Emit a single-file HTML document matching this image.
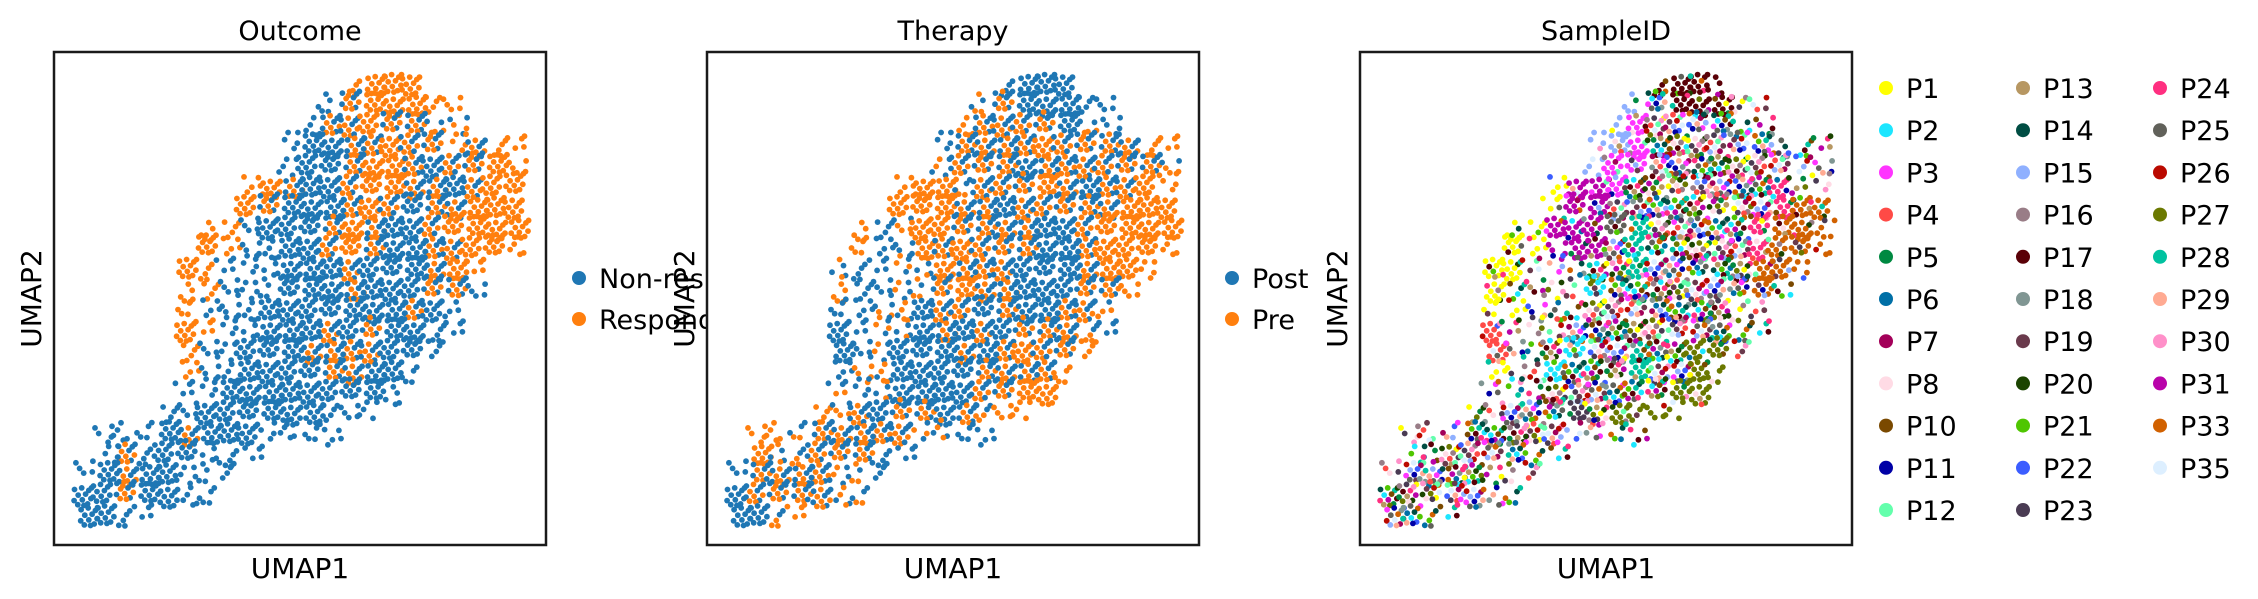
<!DOCTYPE html>
<html><head><meta charset="utf-8">
<style>
html,body{margin:0;padding:0;background:#fff;}
svg{display:block;font-family:"DejaVu Sans","Liberation Sans",sans-serif;}
</style></head>
<body>
<svg id="fig" width="2258" height="599" viewBox="0 0 2258 599" xmlns="http://www.w3.org/2000/svg">
<rect x="0" y="0" width="2258" height="599" fill="#fff"/>
</svg>
<script>
// ---- data: occupancy/colour grids (24x24 cells over each UMAP panel)
const outcomeCategories = ["Non-responder","Responder"];
const outcomeColors = ["#1f77b4","#ff7f0e"];
const outcomeGrid = [
"........................",
"..............oOOO......",
".............bMOOOoo....",
"............bMMOMMmm....",
"...........bBBMMOMMoMoo.",
"...........bBBMOOMBMMOo.",
".........oOMBBMOOMMBMOO.",
".........OMBBBMOMBMMOOO.",
".......oobBBBMOMBBMOOOO.",
".......OobbBBMOMBBMMOOo.",
"......OobbbBBBMBBBMOo...",
"......oobbbBBBMBBBMMb...",
"......obbbBBBBBBBMBb....",
"......OobbBBBMBMBBbb....",
"......obbBBBMMMMBBb.....",
"......obbBBBBMMBBb......",
"......bbBBBBBBBBb.......",
".....bbBBBBBBbbb........",
"..bbbBMBBBbbbb..........",
"..bMbBBbbb..............",
".bBMBBbbb...............",
".BBMBBbb................",
".BBbb...................",
"........................"
];
const therapyCategories = ["Post","Pre"];
const therapyColors = ["#1f77b4","#ff7f0e"];
const therapyGrid = [
"........................",
"..............bBBB......",
".............mMBBBbb....",
"............oMMMMBmb....",
"...........bMMMMOMMMMoo.",
"...........mMMMBMMMMMMm.",
".........oOOmMMMOMBMMOo.",
".........OOOMMBMMMMMOOO.",
".......obmOOMMMMBBMOOOO.",
".......obbOMOMMMBBMOOOo.",
"......mbbmmOMMMBBBMOOo..",
"......obbmmMOMMBBBMMo...",
"......bbmmBMMBMBBMMm....",
"......BbmmBMBMBMMMmb....",
"......BbmBBBMBMOMMo.....",
"......bomBBBBMMMMo......",
"......mbmBBBBMMOO.......",
".....omMBMMBMmoo........",
"..oomMMMMMmmbb..........",
"..OmmMMMbb..............",
".bMMMMmmb...............",
".BMMMMmm................",
".BBmo...................",
"........................"
];
const sampleCategories = ["P1","P2","P3","P4","P5","P6","P7","P8","P10","P11","P12","P13","P14","P15","P16","P17","P18","P19","P20","P21","P22","P23","P24","P25","P26","P27","P28","P29","P30","P31","P33","P35"];
const sampleColors = ["#ffff00","#1ce6ff","#ff34ff","#ff4a46","#008941","#006fa6","#a30059","#ffdbe5","#7a4900","#0000a6","#63ffac","#b79762","#004d43","#8fb0ff","#997d87","#5a0007","#809693","#6a3a4c","#1b4400","#4fc601","#3b5dff","#4a3b53","#ff2f80","#61615a","#ba0900","#6b7900","#00c2a0","#ffaa92","#ff90c9","#b903aa","#d16100","#ddefff"];
const sampleLetters = {y:"P1",c:"P2",p:"P3",r:"P4",u:"P31",k:"P17",n:"P33",v:"P27",l:"P15",t:"P28",g:"P25",h:"P24",d:"P23"};
const sampleGrid = [
"........................",
"..............kKKk......",
".............lXKKKxx....",
"............lPXXXXxx....",
"...........lLPXXXXXXxxx.",
"...........lPPXXXXXXXxx.",
".........yUUPXXXXXXXHxx.",
".........yUUXXXXXXXXHNN.",
".......yyUUUGTXXXXXHNNn.",
".......YyuUUXTXXXXXHNNn.",
"......YYxxxXXTXXXXXNNn..",
"......YxxxxCXXXXXXXNx...",
"......yyxxxXXXXXXXxx....",
"......RxxxXXXXXXXXxx....",
"......RxxXCXXTXXVVx.....",
"......yxxCXXXTXXVv......",
"......xxxXXXXXXVV.......",
".....xxXXXDXVvvv........",
"..xxxXXXXXxxxx..........",
"..xxXXXXxx..............",
".xXXXXxxx...............",
".XXXXXxx................",
".XXxx...................",
"........................"
];

// ---- layout
const NS = "http://www.w3.org/2000/svg";
const svg = document.getElementById("fig");
const PW = 492, PH = 493, PY = 52, NCELL = 24;
const panelX = [54, 707, 1360];
const CS = PW / NCELL, CSY = PH / NCELL;
const offs = [[0.12,0.18],[0.47,0.1],[0.82,0.22],[0.3,0.45],[0.66,0.4],[0.92,0.62],[0.1,0.72],[0.5,0.68],[0.76,0.88],[0.28,0.92],[0.95,0.1],[0.58,0.95]];
const shifts = [[0,0],[0.15,-0.1],[-0.12,0.12],[0.08,0.2],[-0.2,-0.05],[0.2,0.1],[-0.05,-0.18]];
function xScale(x0, col){ return x0 + col * CS; }
function yScale(row){ return PY + row * CSY; }

function mk(tag, attrs, parent){
  const e = document.createElementNS(NS, tag);
  for (const k in attrs) e.setAttribute(k, attrs[k]);
  (parent || svg).appendChild(e);
  return e;
}

function drawScatter(x0, grid, colorFor, name){
  const g = mk("g", {});
  
  
  for (let r = 0; r < grid.length; r++){
    for (let c = 0; c < grid[r].length; c++){
      const ch = grid[r][c];
      if (ch === ".") continue;
      const dense = ch !== ch.toLowerCase();
      const n = dense ? 12 : 5;
      const base = (r * 5 + c * 3) % 12;
      const sh = shifts[(r * 3 + c * 2) % shifts.length];
      for (let k = 0; k < n; k++){
        const o = offs[(base + k * (dense ? 1 : 5)) % 12];
        const col = colorFor(ch.toLowerCase(), r, c, k);
        const dot = mk("circle", {cx:(xScale(x0, c + o[0] + sh[0])).toFixed(1), cy:(yScale(r + o[1] + sh[1])).toFixed(1), r:2.9, fill:col}, g);
        
        
      }
    }
  }
}

function binColor(colors){
  return function(ch, r, c, k){
    if (ch === "b") return colors[0];
    if (ch === "o") return colors[1];
    return ((k + r + c) % 2 === 0) ? colors[0] : colors[1];
  };
}
function sampleColor(ch, r, c, k){
  if (ch === "x"){
    const i = (r * 5 + c * 3 + k * 7) % sampleColors.length;
    return sampleColors[i];
  }
  const idx = sampleCategories.indexOf(sampleLetters[ch]);
  if (k % 4 === 3) return sampleColors[(r * 3 + c * 7 + k) % sampleColors.length];
  return sampleColors[idx];
}

function drawPanel(i, title, grid, colorFor, name){
  const x0 = panelX[i];
  const bg = mk("rect", {x:x0, y:PY, width:PW, height:PH, fill:"#fff"});
  
  
  drawScatter(x0, grid, colorFor, name);
  const fr = mk("rect", {x:x0, y:PY, width:PW, height:PH, fill:"none", stroke:"#1a1a1a", "stroke-width":2.5});
  
  
  const t = mk("text", {x:x0 + PW/2, y:40, "font-size":27, "text-anchor":"middle", fill:"#000"});
  t.textContent = title;
  
  
  const xl = mk("text", {x:x0 + PW/2, y:578, "font-size":28, "text-anchor":"middle", fill:"#000"});
  xl.textContent = "UMAP1";
  
  
  const cx = x0 - 23, cy = PY + PH/2;
  const yl = mk("text", {x:cx, y:cy + 10, "font-size":28, "text-anchor":"middle", fill:"#000", transform:"rotate(-90 " + cx + " " + cy + ")"});
  yl.textContent = "UMAP2";
  
  
}

function legendEntry(dx, dy, color, label){
  const g = mk("g", {});
  
  
  mk("circle", {cx:dx, cy:dy, r:7, fill:color}, g);
  const t = mk("text", {x:dx + 20, y:dy + 10, "font-size":27, fill:"#000"}, g);
  t.textContent = label;
}

drawPanel(0, "Outcome", outcomeGrid, binColor(outcomeColors), "outcome");
outcomeCategories.forEach((c, i) => legendEntry(579, 278 + i * 41, outcomeColors[i], c));
drawPanel(1, "Therapy", therapyGrid, binColor(therapyColors), "therapy");
therapyCategories.forEach((c, i) => legendEntry(1232, 278 + i * 41, therapyColors[i], c));
drawPanel(2, "SampleID", sampleGrid, sampleColor, "sampleid");
const legCols = [1886, 2023, 2160];
sampleCategories.forEach((c, i) => {
  const col = Math.floor(i / 11), row = i % 11;
  legendEntry(legCols[col], 88 + row * 42.2, sampleColors[i], c);
});
</script>
</body></html>
